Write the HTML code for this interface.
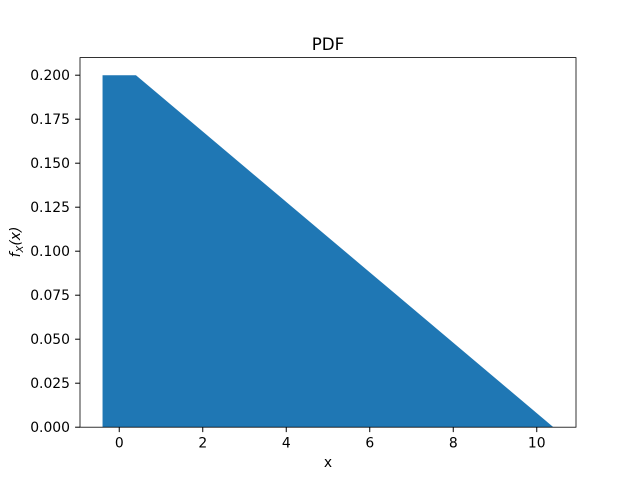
<!DOCTYPE html>
<html><head><meta charset="utf-8"><style>
body{margin:0;background:#fff;}
svg{display:block;font-family:"DejaVu Sans","Liberation Sans",sans-serif;}
</style></head><body>
<svg id="chart" width="640" height="480">
<rect width="640" height="480" fill="#fff"/>
<g id="plot"></g>
<text x="328" y="50" font-size="16.7" text-anchor="middle">PDF</text>
<text x="328" y="467" font-size="13.9" text-anchor="middle">x</text>
<text transform="translate(20,242) rotate(-90)" font-size="13.9" text-anchor="middle" font-style="italic">f<tspan font-size="10" dy="3">X</tspan><tspan dy="-3">(x)</tspan></text>
</svg>
<script>
const xPoints = [-0.4, 0.4, 10.4];
const yPoints = [0.2, 0.2, 0];
const xTicks = [0, 2, 4, 6, 8, 10];
const yTicks = [0, 0.025, 0.05, 0.075, 0.1, 0.125, 0.15, 0.175, 0.2];
const yTickLabels = ["0.000","0.025","0.050","0.075","0.100","0.125","0.150","0.175","0.200"];

const L=80,R=576,T=57.6,B=427.2;
const xmin=-0.94,xmax=10.94,ymin=0,ymax=0.21;
const sx=v=>L+(v-xmin)/(xmax-xmin)*(R-L);
const sy=v=>B-(v-ymin)/(ymax-ymin)*(B-T);
const NS="http://www.w3.org/2000/svg";
const g=document.getElementById('plot');
function mk(t,a){const e=document.createElementNS(NS,t);for(const k in a)e.setAttribute(k,a[k]);g.appendChild(e);return e;}

let pts=[sx(xPoints[0])+','+sy(0)];
for(let i=0;i<xPoints.length;i++)pts.push(sx(xPoints[i])+','+sy(yPoints[i]));
pts.push(sx(xPoints[xPoints.length-1])+','+sy(0));
const area=mk('polygon',{points:pts.join(' '),fill:'#1f77b4'});



const frame=mk('rect',{x:L,y:T,width:R-L,height:B-T,fill:'none',stroke:'#000','stroke-width':0.8});



xTicks.forEach(v=>{
  const x=sx(v);
  const tk=mk('line',{x1:x,x2:x,y1:B,y2:B+4.9,stroke:'#000','stroke-width':1});
  
  
  const t=mk('text',{x:x,y:B+20.5,'font-size':13.9,'text-anchor':'middle'});
  t.textContent=v;
  
  
});
yTicks.forEach((v,i)=>{
  const y=sy(v);
  const tk=mk('line',{x1:L-4.9,x2:L,y1:y,y2:y,stroke:'#000','stroke-width':1});
  
  
  const t=mk('text',{x:L-10,y:y+5,'font-size':13.9,'text-anchor':'end'});
  t.textContent=yTickLabels[i];
  
  
});
</script>
</body></html>
